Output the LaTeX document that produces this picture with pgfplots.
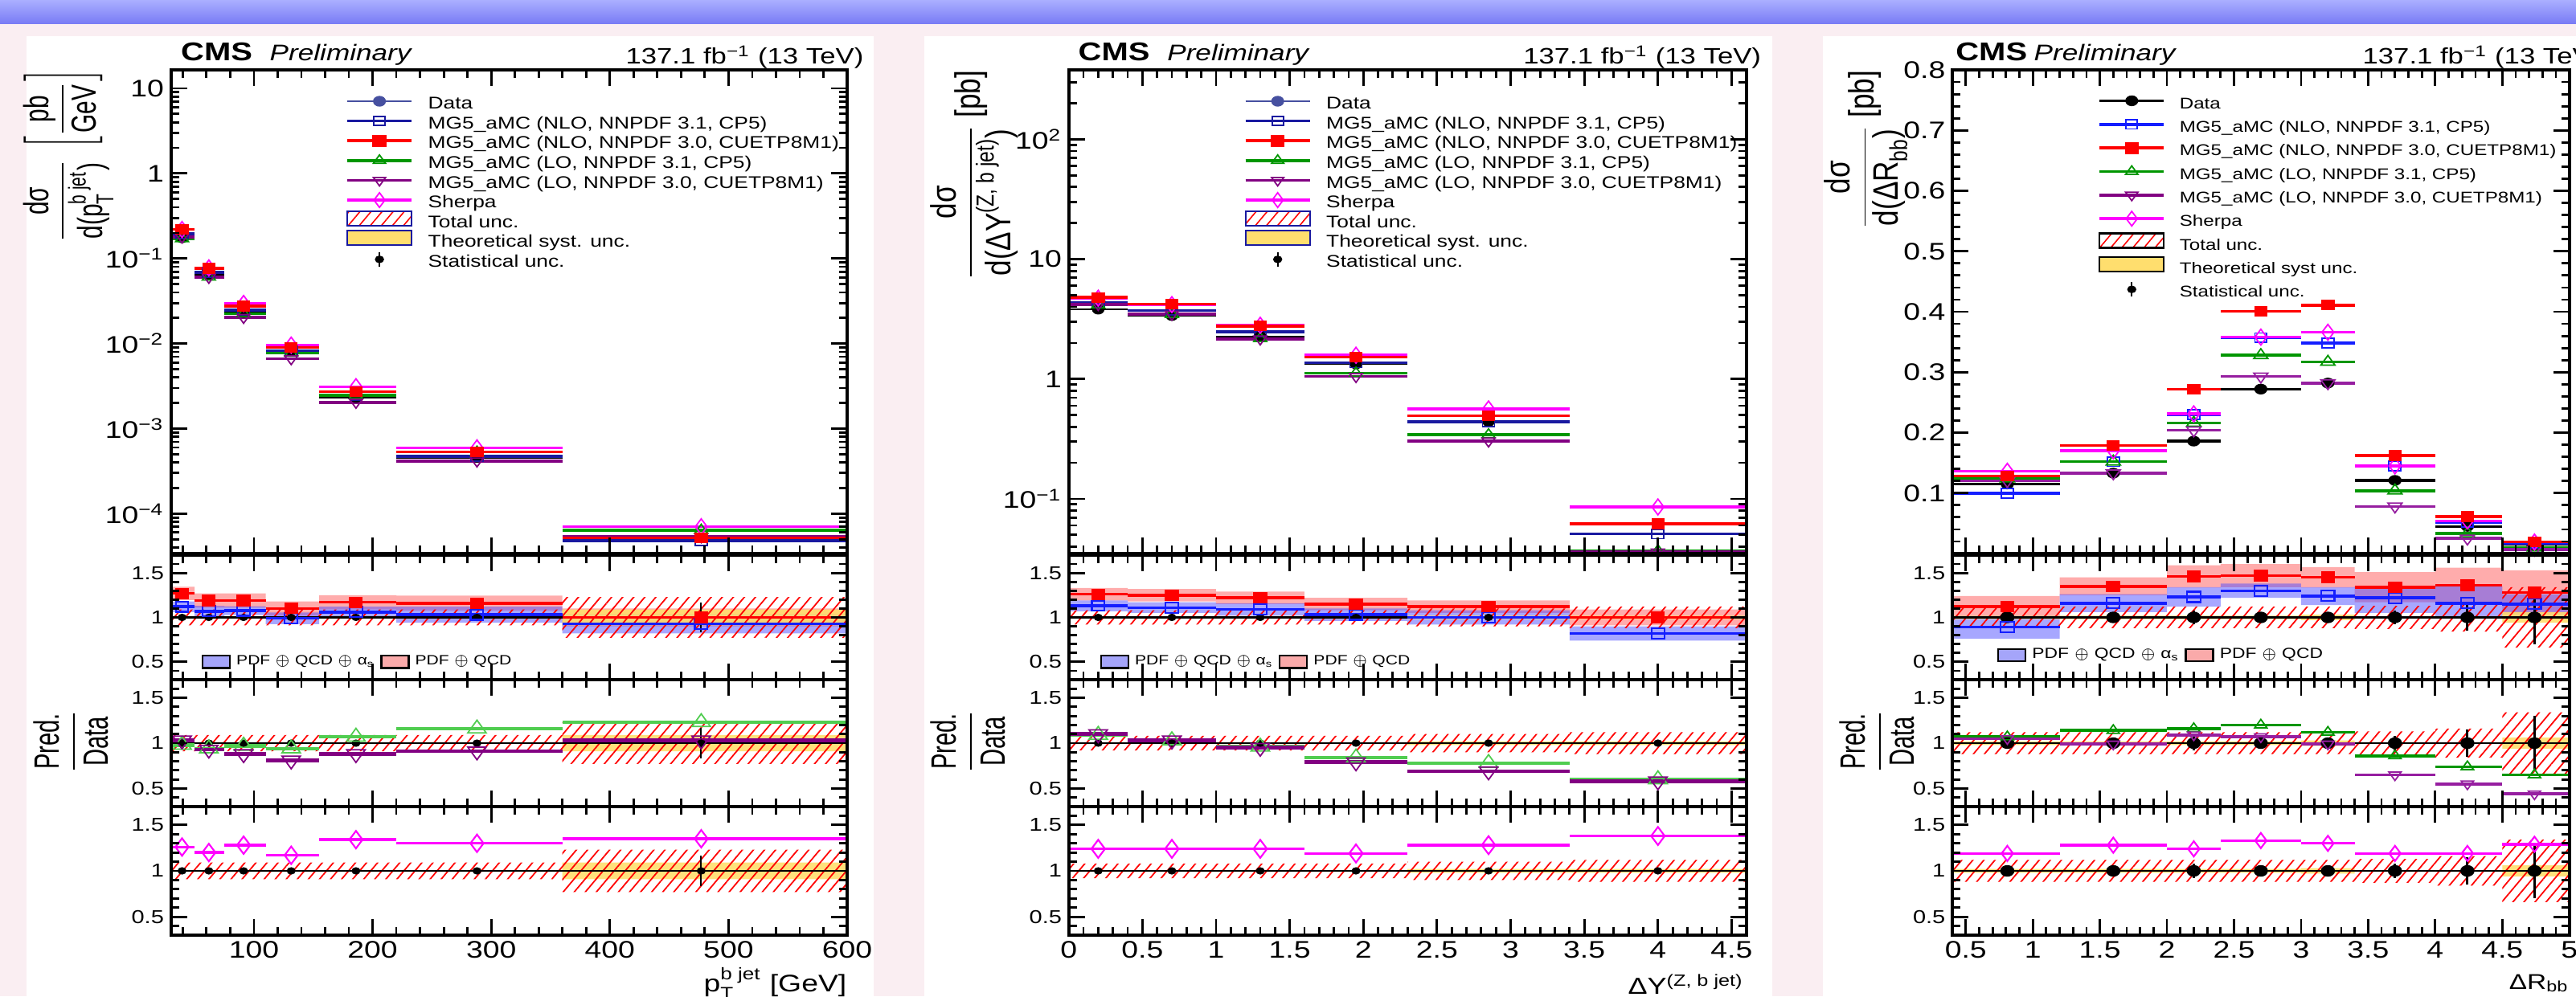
\documentclass[border=0pt]{standalone}
\usepackage{amsmath}
\usepackage{fontspec}
\setmainfont{Liberation Sans}[FakeStretch=1.25]
\newfontfamily\rotfont{Liberation Sans}
\usepackage{pgfplots}
\pgfplotsset{compat=1.18}
\usepackage{pgfplotstable}
\usepgfplotslibrary{fillbetween}
\usetikzlibrary{patterns.meta}

\definecolor{bgpink}{RGB}{250,238,242}
\definecolor{bandtop}{RGB}{170,175,255}
\definecolor{bandbot}{RGB}{120,122,245}
\definecolor{cnavy}{RGB}{25,25,160}
\definecolor{cblue}{RGB}{20,30,255}
\definecolor{cred}{RGB}{255,0,0}
\definecolor{cgreen}{RGB}{0,150,0}
\definecolor{cgreenL}{RGB}{80,205,80}
\definecolor{cpurple}{RGB}{130,0,130}
\definecolor{cpurpleL}{RGB}{150,30,160}
\definecolor{cmag}{RGB}{255,0,255}
\definecolor{cyel}{RGB}{255,222,110}
\definecolor{bandred}{RGB}{255,90,90}
\definecolor{bandblue}{RGB}{80,80,255}
\definecolor{lbandB}{RGB}{165,165,250}
\definecolor{lbandR}{RGB}{250,170,170}
\definecolor{cdataleg}{RGB}{70,80,160}

\newcommand\fs[1]{\fontsize{#1}{#1}\selectfont}

\pgfplotsset{
 cms/.style={scale only axis, set layers, axis on top, clip=true, anchor=south west,
   axis line style={line width=1.1pt}, tick style={line width=0.8pt, black},
   tick align=inside, major tick length=0.2cm, minor tick length=0.1cm,
   /pgf/number format/assume math mode=true,
   yticklabel style={inner sep=0pt, xshift=-0.08cm},
   xticklabel style={inner sep=0pt, yshift=-0.07cm, font=\fs{8.5}},
   legend cell align=left},
 ratio/.style={cms, ymin=0.3, ymax=1.7, ytick={0.5,1,1.5}, minor ytick={0.3,0.4,...,1.7},
   yticklabel style={font=\fs{6.6}}},
 xA/.style={xmin=30, xmax=600, xtick={100,200,...,600}, minor xtick={40,60,...,580}, width=8.414cm},
 xB/.style={xmin=0, xmax=4.6, xtick={0,0.5,...,4.5}, minor xtick={0,0.1,...,4.6}, width=8.43cm},
 xC/.style={xmin=0.4, xmax=5, xtick={0.5,1,...,5}, minor xtick={0.4,0.5,...,5}, width=7.677cm},
 hatch/.style={draw=none, pattern={Lines[angle=50,distance=3pt,line width=0.5pt]}, pattern color=red},
 mybox/.style={legend image code/.code={\draw[##1] (0cm,-0.07cm) rectangle (0.8cm,0.11cm);}},
 smallbox/.style={legend image code/.code={\draw[##1] (0cm,-0.075cm) rectangle (0.34cm,0.08cm);}},
 linelegend/.style={legend image code/.code={\draw[mark repeat=2,mark phase=2] plot coordinates {(0cm,0cm) (0.4cm,0cm) (0.8cm,0cm)};}},
 statimg/.style={legend image code/.code={\draw[black,line width=0.6pt] (0.4cm,-0.09cm)--(0.4cm,0.09cm); \fill[black] (0.4cm,0cm) circle[x radius=0.05cm, y radius=0.04cm];}},
}

% series: table, column, colour, mark, mark options, line width
\newcommand\ser[6]{%
 \addplot[forget plot, only marks, color=#3, mark=#4, mark options={solid,#5},
   error bars/.cd, x dir=both, x explicit, error mark=none,
   error bar style={line width=#6, color=#3, solid}]
   table[x=c, y=#2, x error minus expr=\thisrow{c}-\thisrow{lo}, x error plus expr=\thisrow{hi}-\thisrow{c}] {#1};}
% ratio data: table, mark size, line width
\newcommand\rdat[3]{%
 \addplot[forget plot, only marks, black, mark=*, mark options={mark size=#2, xscale=1.25},
   error bars/.cd, x dir=both, x explicit, y dir=both, y explicit, error mark=none,
   error bar style={line width=#3, black}]
   table[x=c, y expr=1, y error=stat, x error minus expr=\thisrow{c}-\thisrow{lo}, x error plus expr=\thisrow{hi}-\thisrow{c}] {#1};}
% band: table, centre, half width column, fill style, name
\newcommand\bandfill[5]{%
 \addplot[forget plot, const plot, draw=none, name path=#5u] table[x=x, y expr={#2+\thisrow{#3}}] {#1};
 \addplot[forget plot, const plot, draw=none, name path=#5d] table[x=x, y expr={#2-\thisrow{#3}}] {#1};
 \addplot[forget plot, #4] fill between[of=#5u and #5d];}
\newcommand\rleg{%
 \addlegendimage{smallbox, fill=lbandB, draw=black, line width=0.7pt}
 \addlegendentry{PDF $\oplus$ QCD $\oplus$ α\textsubscript{s}\hspace{0.3cm}}
 \addlegendimage{smallbox, fill=lbandR, draw=black, line width=0.7pt}
 \addlegendentry{PDF $\oplus$ QCD}}
% main legend: data colour, blue colour, border colour, theory text
\newcommand\mleg[4]{%
 \addlegendimage{linelegend, #1, line width=0.8pt, mark=*, mark options={solid, mark size=1.5pt, xscale=1.25}}\addlegendentry{Data}
 \addlegendimage{linelegend, #2, line width=1pt, mark=square, mark options={solid, mark size=1.6pt, xscale=1.25, line width=0.5pt}}\addlegendentry{MG5\_aMC (NLO, NNPDF 3.1, CP5)}
 \addlegendimage{linelegend, cred, line width=1pt, mark=square*, mark options={solid, mark size=1.6pt, xscale=1.25}}\addlegendentry{MG5\_aMC (NLO, NNPDF 3.0, CUETP8M1)}
 \addlegendimage{linelegend, cgreen, line width=1pt, mark=triangle, mark options={solid, mark size=2pt, xscale=1.25, line width=0.5pt}}\addlegendentry{MG5\_aMC (LO, NNPDF 3.1, CP5)}
 \addlegendimage{linelegend, cpurple, line width=1pt, mark=triangle, mark options={solid, mark size=2pt, rotate=180, xscale=1.25, line width=0.5pt}}\addlegendentry{MG5\_aMC (LO, NNPDF 3.0, CUETP8M1)}
 \addlegendimage{linelegend, cmag, line width=1pt, mark=diamond, mark options={solid, mark size=2.6pt, line width=0.5pt}}\addlegendentry{Sherpa}
 \addlegendimage{mybox, draw=#3, line width=0.6pt, pattern={Lines[angle=50,distance=3pt,line width=0.45pt]}, pattern color=red}\addlegendentry{Total unc.}
 \addlegendimage{mybox, draw=#3, line width=0.6pt, fill=cyel}\addlegendentry{#4}
 \addlegendimage{statimg}\addlegendentry{Statistical unc.}}

% ---------------- data ----------------
\pgfplotstableread{
lo hi c data blue red green purple sherpa rblue rred rgreen rpurple rsherpa stat
30 50 39.4 0.174 0.195 0.221 0.171 0.179 0.219 1.12 1.27 0.98 1.03 1.26 0.01
50 75 62 0.0646 0.0691 0.0769 0.0607 0.0601 0.0775 1.07 1.19 0.94 0.93 1.20 0.01
75 110 91.3 0.0231 0.0248 0.0275 0.0224 0.0203 0.0296 1.075 1.19 0.97 0.88 1.28 0.01
110 155 131.4 0.0082 0.00812 0.00902 0.00771 0.00664 0.00959 0.99 1.10 0.94 0.81 1.17 0.015
155 220 186 0.00232 0.00246 0.00271 0.00248 0.00204 0.00311 1.06 1.17 1.07 0.88 1.34 0.015
220 360 288 4.57e-4 4.71e-4 5.30e-4 5.30e-4 4.16e-4 5.94e-4 1.03 1.16 1.16 0.91 1.30 0.02
360 600 477 5.2e-5 4.84e-5 5.2e-5 6.4e-5 5.36e-5 7.02e-5 0.93 1.00 1.23 1.03 1.35 0.17
}\Tpt
\pgfplotstableread{
x rb bb rr br tot theo
30 1.12 0.06 1.27 0.075 0.09 0.01
50 1.07 0.06 1.19 0.08 0.09 0.01
75 1.075 0.05 1.19 0.08 0.09 0.01
110 0.99 0.065 1.10 0.08 0.09 0.01
155 1.06 0.06 1.17 0.08 0.09 0.01
220 1.03 0.09 1.16 0.085 0.09 0.01
360 0.93 0.11 1.00 0.10 0.23 0.09
600 0.93 0.11 1.00 0.10 0.23 0.09
}\Bpt
\pgfplotstableread{
lo hi c data blue red green purple sherpa rblue rred rgreen rpurple rsherpa stat
0 0.4 0.2 3.81 4.31 4.80 4.15 4.19 4.72 1.13 1.26 1.09 1.10 1.24 0.01
0.4 1.0 0.7 3.37 3.74 4.21 3.47 3.47 4.18 1.11 1.25 1.03 1.03 1.24 0.01
1.0 1.6 1.3 2.27 2.47 2.77 2.18 2.16 2.81 1.09 1.22 0.96 0.95 1.24 0.01
1.6 2.3 1.95 1.33 1.37 1.53 1.12 1.05 1.58 1.03 1.15 0.84 0.79 1.19 0.015
2.3 3.4 2.85 0.44 0.44 0.493 0.343 0.304 0.563 1.00 1.12 0.78 0.69 1.28 0.02
3.4 4.6 4.0 0.062 0.051 0.062 0.037 0.036 0.0856 0.82 1.00 0.60 0.58 1.38 0.03
}\Tdy
\pgfplotstableread{
x rb bb rr br tot theo
0 1.13 0.06 1.26 0.07 0.08 0.01
0.4 1.11 0.06 1.25 0.07 0.08 0.01
1.0 1.09 0.07 1.22 0.07 0.08 0.01
1.6 1.03 0.07 1.15 0.07 0.08 0.01
2.3 1.00 0.08 1.12 0.07 0.10 0.02
3.4 0.82 0.08 1.00 0.09 0.12 0.02
4.6 0.82 0.08 1.00 0.09 0.12 0.02
}\Bdy
\pgfplotstableread{
lo hi c data blue red green purple sherpa rblue rred rgreen rpurple rsherpa stat
0.4 1.2 0.81 0.115 0.100 0.128 0.124 0.120 0.136 0.89 1.12 1.07 1.05 1.19 0.04
1.2 2.0 1.60 0.133 0.152 0.179 0.152 0.133 0.170 1.16 1.35 1.14 0.99 1.28 0.03
2.0 2.4 2.20 0.186 0.230 0.272 0.216 0.204 0.231 1.23 1.46 1.16 1.09 1.24 0.08
2.4 3.0 2.70 0.272 0.357 0.401 0.328 0.293 0.358 1.30 1.47 1.20 1.07 1.33 0.03
3.0 3.4 3.20 0.282 0.348 0.411 0.317 0.282 0.366 1.24 1.45 1.12 0.99 1.30 0.04
3.4 4.0 3.70 0.121 0.145 0.162 0.104 0.078 0.145 1.22 1.34 0.86 0.65 1.19 0.08
4.0 4.5 4.24 0.045 0.052 0.061 0.033 0.025 0.054 1.16 1.36 0.74 0.55 1.19 0.15
4.5 5.0 4.74 0.0148 0.017 0.019 0.0096 0.0065 0.019 1.15 1.28 0.65 0.44 1.29 0.30
}\Tdr
\pgfplotstableread{
x rb bb rr br tot theo
0.4 0.89 0.13 1.12 0.12 0.12 0.02
1.2 1.16 0.10 1.35 0.10 0.12 0.02
2.0 1.23 0.11 1.46 0.125 0.12 0.02
2.4 1.30 0.08 1.47 0.13 0.12 0.02
3.0 1.24 0.10 1.45 0.115 0.12 0.03
3.4 1.20 0.15 1.34 0.17 0.13 0.01
4.0 1.17 0.18 1.36 0.20 0.16 0.01
4.5 1.13 0.13 1.28 0.25 0.34 0.06
5.0 1.13 0.13 1.28 0.25 0.34 0.06
}\Bdr

\newcommand\tp[1]{10\textsuperscript{#1}}

\begin{document}
\begin{tikzpicture}

% ================= PANEL 1 =================
\begin{axis}[cms, xA, at={(2.126cm,5.51cm)}, height=6.02cm, xticklabels={},
  ymode=log, ymin=3.4e-5, ymax=16.5,
  ytick={1e-4,1e-3,1e-2,1e-1,1,10},
  yticklabels={\tp{\textminus4},\tp{\textminus3},\tp{\textminus2},\tp{\textminus1},1,10},
  minor ytick={4e-5,5e-5,6e-5,7e-5,8e-5,9e-5,2e-4,3e-4,4e-4,5e-4,6e-4,7e-4,8e-4,9e-4,2e-3,3e-3,4e-3,5e-3,6e-3,7e-3,8e-3,9e-3,0.02,0.03,0.04,0.05,0.06,0.07,0.08,0.09,0.2,0.3,0.4,0.5,0.6,0.7,0.8,0.9,2,3,4,5,6,7,8,9},
  yticklabel style={font=\fs{8.5}},
  legend style={at={(0.258,0.967)}, anchor=north west, draw=none, fill=none, inner sep=0pt, row sep=-3.5pt, column sep=0.17cm, font=\fs{6}, nodes={inner sep=0.5pt, text height=0.75em, text depth=0.2em}}]
\ser{\Tpt}{data}{black}{*}{mark size=1.6pt, xscale=1.25}{0.6pt}
\ser{\Tpt}{blue}{cnavy}{square}{mark size=1.7pt, xscale=1.25, line width=0.5pt}{1pt}
\ser{\Tpt}{green}{cgreen}{triangle}{mark size=2.1pt, xscale=1.25, line width=0.5pt}{1pt}
\ser{\Tpt}{purple}{cpurple}{triangle}{mark size=2.1pt, rotate=180, xscale=1.25, line width=0.5pt}{1pt}
\ser{\Tpt}{sherpa}{cmag}{diamond}{mark size=2.8pt, line width=0.5pt}{1pt}
\ser{\Tpt}{red}{cred}{square*}{mark size=1.7pt, xscale=1.25}{1pt}
\mleg{cdataleg}{cnavy}{cnavy}{Theoretical syst. unc.}
\end{axis}

\begin{axis}[ratio, xA, at={(2.126cm,3.94cm)}, height=1.55cm, xticklabels={},
  legend style={at={(0.0445,0.143)}, anchor=west, legend columns=2, draw=none, fill=none, inner sep=0pt, column sep=0.07cm, font=\fs{4.8}, nodes={inner sep=0pt}}]
\bandfill{\Bpt}{\thisrow{rr}}{br}{fill=bandred, fill opacity=0.5, draw=none}{aRr}
\bandfill{\Bpt}{\thisrow{rb}}{bb}{fill=bandblue, fill opacity=0.5, draw=none}{aRb}
\bandfill{\Bpt}{1}{theo}{fill=cyel, fill opacity=0.9, draw=none}{aRy}
\bandfill{\Bpt}{1}{tot}{hatch}{aRh}
\rdat{\Tpt}{1.1pt}{0.6pt}
\ser{\Tpt}{rblue}{cblue}{square}{mark size=1.8pt, xscale=1.25, line width=0.6pt}{1pt}
\ser{\Tpt}{rred}{cred}{square*}{mark size=1.8pt, xscale=1.25}{1pt}
\rleg
\end{axis}

\begin{axis}[ratio, xA, at={(2.126cm,2.36cm)}, height=1.58cm, xticklabels={}]
\bandfill{\Bpt}{1}{theo}{fill=cyel, fill opacity=0.9, draw=none}{aSy}
\bandfill{\Bpt}{1}{tot}{hatch}{aSh}
\rdat{\Tpt}{1.1pt}{0.6pt}
\ser{\Tpt}{rgreen}{cgreenL}{triangle}{mark size=3pt, xscale=1.25, line width=0.5pt}{1.3pt}
\ser{\Tpt}{rpurple}{cpurple}{triangle}{mark size=3pt, rotate=180, xscale=1.25, line width=0.5pt}{1.3pt}
\end{axis}

\begin{axis}[ratio, xA, at={(2.126cm,0.76cm)}, height=1.60cm]
\bandfill{\Bpt}{1}{theo}{fill=cyel, fill opacity=0.9, draw=none}{aTy}
\bandfill{\Bpt}{1}{tot}{hatch}{aTh}
\rdat{\Tpt}{1.1pt}{0.6pt}
\ser{\Tpt}{rsherpa}{cmag}{diamond}{mark size=3.1pt, line width=0.6pt}{1pt}
\end{axis}

% ================= PANEL 2 =================
\begin{axis}[cms, xB, at={(13.297cm,5.51cm)}, height=6.02cm, xticklabels={},
  ymode=log, ymin=0.035, ymax=380,
  ytick={0.1,1,10,100},
  yticklabels={\tp{\textminus1},1,10,\tp{2}},
  minor ytick={0.04,0.05,0.06,0.07,0.08,0.09,0.2,0.3,0.4,0.5,0.6,0.7,0.8,0.9,2,3,4,5,6,7,8,9,20,30,40,50,60,70,80,90,200,300},
  yticklabel style={font=\fs{8.5}},
  legend style={at={(0.258,0.967)}, anchor=north west, draw=none, fill=none, inner sep=0pt, row sep=-3.5pt, column sep=0.17cm, font=\fs{6}, nodes={inner sep=0.5pt, text height=0.75em, text depth=0.2em}}]
\ser{\Tdy}{data}{black}{*}{mark size=1.6pt, xscale=1.25}{0.6pt}
\ser{\Tdy}{blue}{cnavy}{square}{mark size=1.7pt, xscale=1.25, line width=0.5pt}{1pt}
\ser{\Tdy}{green}{cgreen}{triangle}{mark size=2.1pt, xscale=1.25, line width=0.5pt}{1pt}
\ser{\Tdy}{purple}{cpurple}{triangle}{mark size=2.1pt, rotate=180, xscale=1.25, line width=0.5pt}{1pt}
\ser{\Tdy}{sherpa}{cmag}{diamond}{mark size=2.8pt, line width=0.5pt}{1pt}
\ser{\Tdy}{red}{cred}{square*}{mark size=1.7pt, xscale=1.25}{1pt}
\mleg{cdataleg}{cnavy}{cnavy}{Theoretical syst. unc.}
\end{axis}

\begin{axis}[ratio, xB, at={(13.297cm,3.94cm)}, height=1.55cm, xticklabels={},
  legend style={at={(0.0454,0.143)}, anchor=west, legend columns=2, draw=none, fill=none, inner sep=0pt, column sep=0.07cm, font=\fs{4.8}, nodes={inner sep=0pt}}]
\bandfill{\Bdy}{\thisrow{rr}}{br}{fill=bandred, fill opacity=0.5, draw=none}{bRr}
\bandfill{\Bdy}{\thisrow{rb}}{bb}{fill=bandblue, fill opacity=0.5, draw=none}{bRb}
\bandfill{\Bdy}{1}{theo}{fill=cyel, fill opacity=0.9, draw=none}{bRy}
\bandfill{\Bdy}{1}{tot}{hatch}{bRh}
\rdat{\Tdy}{1.1pt}{0.6pt}
\ser{\Tdy}{rblue}{cblue}{square}{mark size=1.8pt, xscale=1.25, line width=0.6pt}{1pt}
\ser{\Tdy}{rred}{cred}{square*}{mark size=1.8pt, xscale=1.25}{1pt}
\rleg
\end{axis}

\begin{axis}[ratio, xB, at={(13.297cm,2.36cm)}, height=1.58cm, xticklabels={}]
\bandfill{\Bdy}{1}{theo}{fill=cyel, fill opacity=0.9, draw=none}{bSy}
\bandfill{\Bdy}{1}{tot}{hatch}{bSh}
\rdat{\Tdy}{1.1pt}{0.6pt}
\ser{\Tdy}{rgreen}{cgreenL}{triangle}{mark size=3pt, xscale=1.25, line width=0.5pt}{1.3pt}
\ser{\Tdy}{rpurple}{cpurple}{triangle}{mark size=3pt, rotate=180, xscale=1.25, line width=0.5pt}{1.3pt}
\end{axis}

\begin{axis}[ratio, xB, at={(13.297cm,0.76cm)}, height=1.60cm]
\bandfill{\Bdy}{1}{theo}{fill=cyel, fill opacity=0.9, draw=none}{bTy}
\bandfill{\Bdy}{1}{tot}{hatch}{bTh}
\rdat{\Tdy}{1.1pt}{0.6pt}
\ser{\Tdy}{rsherpa}{cmag}{diamond}{mark size=3.2pt, line width=0.6pt}{1pt}
\end{axis}

% ================= PANEL 3 =================
\begin{axis}[cms, xC, at={(24.29cm,5.51cm)}, height=6.02cm, xticklabels={},
  ymin=0, ymax=0.8, ytick={0.1,0.2,0.3,0.4,0.5,0.6,0.7,0.8},
  minor ytick={0.02,0.04,...,0.8},
  yticklabel style={font=\fs{8.5}},
  legend style={at={(0.2355,0.968)}, anchor=north west, draw=none, fill=none, inner sep=0pt, row sep=-2.15pt, column sep=0.16cm, font=\fs{5.5}, nodes={inner sep=0.5pt, text height=0.75em, text depth=0.2em}}]
\ser{\Tdr}{data}{black}{*}{mark size=1.7pt, xscale=1.25}{0.9pt}
\ser{\Tdr}{blue}{cblue}{square}{mark size=1.7pt, xscale=1.25, line width=0.5pt}{1pt}
\ser{\Tdr}{green}{cgreen}{triangle}{mark size=2.3pt, xscale=1.25, line width=0.5pt}{1pt}
\ser{\Tdr}{purple}{cpurpleL}{triangle}{mark size=2.3pt, rotate=180, xscale=1.25, line width=0.5pt}{1pt}
\ser{\Tdr}{sherpa}{cmag}{diamond}{mark size=2.8pt, line width=0.5pt}{1pt}
\ser{\Tdr}{red}{cred}{square*}{mark size=1.7pt, xscale=1.25}{1pt}
\mleg{black}{cblue}{black}{Theoretical syst unc.}
\end{axis}

\begin{axis}[ratio, xC, at={(24.29cm,3.94cm)}, height=1.55cm, xticklabels={},
  legend style={at={(0.072,0.196)}, anchor=west, legend columns=2, draw=none, fill=none, inner sep=0pt, column sep=0.07cm, font=\fs{5.2}, nodes={inner sep=0pt}}]
\bandfill{\Bdr}{\thisrow{rr}}{br}{fill=bandred, fill opacity=0.5, draw=none}{cRr}
\bandfill{\Bdr}{\thisrow{rb}}{bb}{fill=bandblue, fill opacity=0.5, draw=none}{cRb}
\bandfill{\Bdr}{1}{theo}{fill=cyel, fill opacity=0.9, draw=none}{cRy}
\bandfill{\Bdr}{1}{tot}{hatch}{cRh}
\rdat{\Tdr}{1.85pt}{0.8pt}
\ser{\Tdr}{rblue}{cblue}{square}{mark size=1.85pt, xscale=1.25, line width=0.6pt}{1pt}
\ser{\Tdr}{rred}{cred}{square*}{mark size=1.85pt, xscale=1.25}{1pt}
\rleg
\end{axis}

\begin{axis}[ratio, xC, at={(24.29cm,2.36cm)}, height=1.58cm, xticklabels={}]
\bandfill{\Bdr}{1}{theo}{fill=cyel, fill opacity=0.9, draw=none}{cSy}
\bandfill{\Bdr}{1}{tot}{hatch}{cSh}
\rdat{\Tdr}{1.85pt}{0.8pt}
\ser{\Tdr}{rgreen}{cgreen}{triangle}{mark size=2pt, xscale=1.25, line width=0.5pt}{1pt}
\ser{\Tdr}{rpurple}{cpurpleL}{triangle}{mark size=2pt, rotate=180, xscale=1.25, line width=0.5pt}{1pt}
\end{axis}

\begin{axis}[ratio, xC, at={(24.29cm,0.76cm)}, height=1.60cm]
\bandfill{\Bdr}{1}{theo}{fill=cyel, fill opacity=0.9, draw=none}{cTy}
\bandfill{\Bdr}{1}{tot}{hatch}{cTh}
\rdat{\Tdr}{1.85pt}{0.8pt}
\ser{\Tdr}{rsherpa}{cmag}{diamond}{mark size=2.7pt, line width=0.6pt}{1pt}
\end{axis}

% ================= TEXT =================
\foreach \xc/\xp/\xl in {2.245/3.35/10.75, 13.41/14.516/21.917, 24.326/25.30/32.36}{
  \node[anchor=base west, inner sep=0pt, font=\bfseries\fs{9.1}] at (\xc,11.64) {CMS};
  \node[anchor=base west, inner sep=0pt, font=\itshape\fs{8}] at (\xp,11.64) {Preliminary};
  \node[anchor=base east, inner sep=0pt, font=\fs{7.9}] at (\xl,11.60) {137.1 fb\textsuperscript{\textminus1} (13 TeV)};
}
\node[anchor=base east, inner sep=0pt, font=\fs{8.5}] at (10.54,0.06) {$\text{p}^{\text{b jet}}_{\text{T}}$ [GeV]};
\node[anchor=base east, inner sep=0pt, font=\fs{8.2}] at (21.70,0.03) {ΔY\textsuperscript{(Z, b jet)}};
\node[anchor=base east, inner sep=0pt, font=\fs{7.6}] at (31.967,0.09) {ΔR\textsubscript{bb}};

\begin{scope}[shift={(0.85,11.55)}, xscale=1.45]
\node[rotate=90, anchor=east, transform shape, inner sep=0pt, font=\rotfont\fs{8.5}] at (0,0)
 {$\displaystyle\frac{\text{dσ}}{\text{d(p}^{\text{b jet}}_{\text{T}}\text{)}}\;\left[\frac{\text{pb}}{\text{GeV}}\right]$};
\end{scope}
\begin{scope}[shift={(12.12,11.53)}, xscale=1.25]
\node[rotate=90, anchor=east, transform shape, inner sep=0pt, font=\rotfont\fs{10}] at (0,0)
 {$\displaystyle\frac{\text{dσ}}{\text{d(ΔY}^{\text{(Z, b jet)}}\text{)}}\;\text{[pb]}$};
\end{scope}
\begin{scope}[shift={(23.215,11.53)}, xscale=1.25]
\node[rotate=90, anchor=east, transform shape, inner sep=0pt, font=\rotfont\fs{10}] at (0,0)
 {$\displaystyle\frac{\text{dσ}}{\text{d(ΔR}_{\text{bb}}\text{)}}\;\text{[pb]}$};
\end{scope}
\foreach \px in {0.88, 12.04, 23.35}{
\begin{scope}[shift={(\px,3.17)}, xscale=1.5]
\node[rotate=90, anchor=center, transform shape, inner sep=0pt, font=\rotfont\fs{8.3}] at (0,0)
 {$\displaystyle\frac{\text{Pred.}}{\text{Data}}$};
\end{scope}}

% ---------- background, on the lowest layer ----------
\begin{pgfonlayer}{axis background}
\fill[bgpink] (0,0) rectangle (32.05,12.40);
\shade[top color=bandtop, bottom color=bandbot] (0,12.10) rectangle (32.05,12.40);
\fill[white] (0.33,0) rectangle (10.87,11.95);
\fill[white] (11.50,0) rectangle (22.05,11.95);
\fill[white] (22.68,0) rectangle (32.05,11.95);
\end{pgfonlayer}
\pgfresetboundingbox
\path[use as bounding box] (0,0) rectangle (32.05,12.40);
\end{tikzpicture}
\end{document}
